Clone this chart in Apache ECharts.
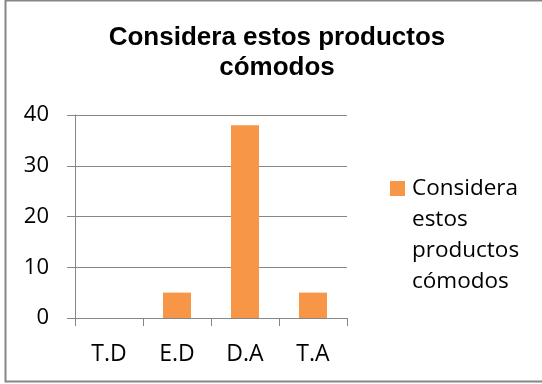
<!DOCTYPE html>
<html>
<head>
<meta charset="utf-8">
<script src="https://cdn.jsdelivr.net/npm/echarts@6/dist/echarts.min.js"></script>
<style>
  html, body { margin: 0; padding: 0; background: #fff; }
  #chart { width: 542px; height: 384px; }
</style>
</head>
<body>
<div id="chart"></div>
<script>
// datos
const categories = ['T.D', 'E.D', 'D.A', 'T.A'];
const values = [0, 5, 38, 5];
const seriesName = 'Considera estos productos cómodos';
const titleText = 'Considera estos productos\ncómodos';

const gray = '#868686';
const chart = echarts.init(document.getElementById('chart'));

const option = {
  animation: false,
  title: {
    text: titleText,
    left: 272,
    top: 18,
    textAlign: 'center',
    textStyle: {
      fontFamily: 'Liberation Sans',
      fontWeight: 'bold',
      fontSize: 26,
      lineHeight: 30,
      color: '#000'
    }
  },
  legend: {
    left: 385,
    top: 75,
    itemWidth: 15,
    itemHeight: 15,
    icon: 'rect',
    // las líneas en blanco dejan el cuadrado a la altura de la primera línea
    formatter: () => '\n\n\nConsidera\nestos\nproductos\ncómodos',
    textStyle: {
      fontFamily: 'Open Sans',
      fontSize: 22.5,
      lineHeight: 31,
      color: '#000',
      padding: [0, 0, 0, 2]
    }
  },
  grid: {
    left: 75,
    right: 195,
    top: 115,
    bottom: 66
  },
  xAxis: {
    type: 'category',
    data: categories,
    axisLine: { lineStyle: { color: gray, width: 1 } },
    axisTick: { show: true, length: 8, lineStyle: { color: gray } },
    axisLabel: {
      margin: 25,
      fontFamily: 'Open Sans',
      fontSize: 23,
      color: '#000'
    }
  },
  yAxis: {
    type: 'value',
    min: 0,
    max: 40,
    interval: 10,
    axisLine: { show: true, lineStyle: { color: gray, width: 1 } },
    axisTick: { show: true, length: 8, lineStyle: { color: gray } },
    splitLine: { lineStyle: { color: gray, width: 1 } },
    axisLabel: {
      margin: 26,
      fontFamily: 'Open Sans',
      fontSize: 22,
      color: '#000'
    }
  },
  series: [
    {
      name: seriesName,
      type: 'bar',
      data: values,
      barWidth: 28,
      itemStyle: { color: '#F79646' }
    }
  ],
  graphic: [
    {
      type: 'rect',
      silent: true,
      shape: { x: 5.5, y: 0.5, width: 545, height: 381 },
      style: { fill: 'none', stroke: gray, lineWidth: 2 }
    }
  ]
};

chart.setOption(option);
</script>
</body>
</html>
